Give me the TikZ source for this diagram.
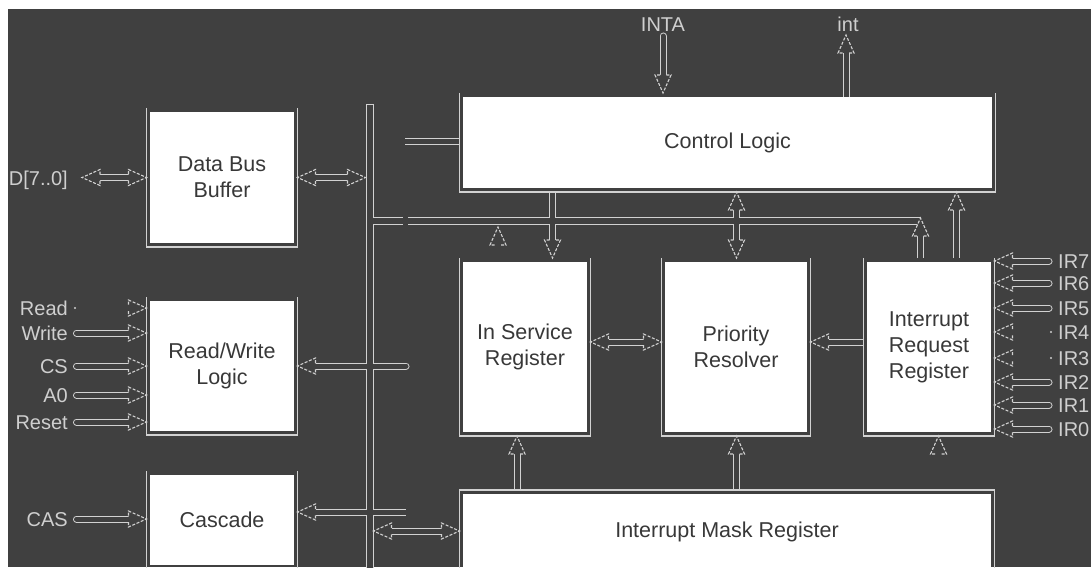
\documentclass[tikz,border=0pt]{standalone}
\usepackage{fontspec}
\setmainfont{Liberation Sans}
\usetikzlibrary{calc}
\definecolor{bg}{HTML}{404040}
\definecolor{ln}{HTML}{D2D2D2}
\definecolor{txt}{HTML}{383838}
\definecolor{lab}{HTML}{CFCFCF}
\tikzset{
 box/.style={fill=white, inner sep=0pt, outer sep=0pt, align=center, text=txt, font=\fontsize{21.5}{26}\selectfont},
 frm/.style={draw=ln, line width=1.2pt},
 outerS/.style={draw=ln, line width=7pt},
 innerS/.style={draw=bg, line width=5pt},
 outerB/.style={draw=ln, line width=8pt},
 innerB/.style={draw=bg, line width=6pt},
 io/.style={text=lab, font=\fontsize{20}{24}\selectfont, inner sep=0pt, text height=14.3pt, text depth=0pt},
 hdst/.style={draw=ln, line width=1.1pt, dash pattern=on 3pt off 1.6pt, line join=miter},
 pics/hd/.style={code={
   \fill[bg] (0,0) -- (-18,8) -- (-18,-8) -- cycle;
   \draw[hdst] (-18,3) -- (-18,8) -- (0,0) -- (-18,-8) -- (-18,-3);}},
}
\newcommand\blkframe[1]{\draw[frm] ($(#1.north west)+(-3.5,-4)$) -- ($(#1.south west)+(-3.5,4)$) -- ($(#1.south east)+(3.5,4)$) -- ($(#1.north east)+(3.5,-4)$);}
\newcommand\blkframetop[1]{\draw[frm] ($(#1.south west)+(-3.5,4)$) -- ($(#1.north west)+(-3.5,-4)$) -- ($(#1.north east)+(3.5,-4)$) -- ($(#1.south east)+(3.5,4)$);}
\newcommand\ShaftsButt{
 ($(dT)+(18,0)$) -- ($(dbbW)+(-18,0)$)
 ($(dbbE)+(18,0)$) -- ($(vbD)+(-18,0)$)
 ($(csdT)+(18,0)$) -- (csdS)
 ($(imL)+(18,0)$) -- ($(imR)+(-18,0)$)
 (clS) -- (clSE)
 (intS) -- ($(intT)+(0,18)$)
 (c1S) -- ($(c1T)+(0,-18)$)
 ($(c2T1)+(0,18)$) -- ($(c2T2)+(0,-18)$)
 (c3S) -- ($(c3T)+(0,18)$)
 (c4S) -- ($(c4T)+(0,18)$)
 ($(ipT1)+(18,0)$) -- ($(ipT2)+(-18,0)$)
 (rpS) -- ($(rpT)+(18,0)$)
 (m1S) -- ($(m1T)+(0,18)$)
 (m2S) -- ($(m2T)+(0,18)$)
}
\newcommand\ShaftsRound{
 (wrS) -- ($(wrT)+(-18,0)$)
 (csS) -- ($(csT)+(-18,0)$)
 (a0S) -- ($(a0T)+(-18,0)$)
 (rsS) -- ($(rsT)+(-18,0)$)
 (caS) -- ($(caT)+(-18,0)$)
 ($(rwT)+(18,0)$) -- (rwS)
 (intaS) -- ($(intaT)+(0,-18)$)
 (ir7S) -- ($(ir7T)+(18,0)$)
 (ir6S) -- ($(ir6T)+(18,0)$)
 (ir5S) -- ($(ir5T)+(18,0)$)
 (ir2S) -- ($(ir2T)+(18,0)$)
 (ir1S) -- ($(ir1T)+(18,0)$)
 (ir0S) -- ($(ir0T)+(18,0)$)
}
\begin{document}
\begin{tikzpicture}[x=1pt,y=-1pt]
\useasboundingbox (0,0) rectangle (1091,567);
\clip (0,0) rectangle (1091,567);
\fill[bg] (0,0) rectangle (1091,567);

% blocks
\node[box, minimum width=144pt, minimum height=131pt] (dbb) at (222,177.5) {Data Bus\\Buffer};
\node[box, minimum width=144pt, minimum height=130pt] (rwl) at (222,366) {Read/Write\\Logic};
\node[box, minimum width=144pt, minimum height=90pt] (cas) at (222,520) {Cascade};
\node[box, minimum width=529pt, minimum height=91pt] (cl) at (727.5,142.5) {Control Logic};
\node[box, minimum width=124pt, minimum height=170pt] (isr) at (525,347) {In Service\\Register};
\node[box, minimum width=142pt, minimum height=170pt] (pr) at (736,347) {Priority\\Resolver};
\node[box, minimum width=124pt, minimum height=170pt] (irr) at (929,347) {Interrupt\\Request\\Register};
\node[box, minimum width=528pt, minimum height=75pt] (imr) at (727,531.5) {Interrupt Mask Register};

% connector end points
\coordinate (dT) at (82,177.5);
\coordinate (dbbW) at ($(dbb.west)+(-3.5,0)$);
\coordinate (dbbE) at ($(dbb.east)+(3.5,0)$);
\coordinate (vbD) at (365.5,177.5);
\coordinate (vb1) at (369.5,104);
\coordinate (vb1i) at (369.5,105);
\coordinate (vb2) at (369.5,575);
\coordinate (hb1) at (369.5,221);
\coordinate (hb2) at (920.5,221);
\coordinate (rdT) at ($(rwl.west)+(-3.5,-58)$);
\coordinate (wrT) at ($(rwl.west)+(-3.5,-33)$); \coordinate (wrS) at (76.5,333);
\coordinate (csT) at ($(rwl.west)+(-3.5,0)$);   \coordinate (csS) at (76.5,366);
\coordinate (a0T) at ($(rwl.west)+(-3.5,29)$);  \coordinate (a0S) at (76.5,395);
\coordinate (rsT) at ($(rwl.west)+(-3.5,56)$);  \coordinate (rsS) at (76.5,422);
\coordinate (caT) at ($(cas.west)+(-3.5,-1)$);  \coordinate (caS) at (76.5,519);
\coordinate (rwT) at ($(rwl.east)+(3.5,0)$);    \coordinate (rwS) at (406,366);
\coordinate (csdT) at ($(cas.east)+(3.5,-8)$);  \coordinate (csdS) at (406,512);
\coordinate (imL) at (373.5,531);               \coordinate (imR) at ($(imr.west)+(-3.5,-0.5)$);
\coordinate (clS) at ($(cl.west)+(-3.5,-1)$);   \coordinate (clSE) at (405,141.5);
\coordinate (intaS) at (663,36);                \coordinate (intaT) at ($(cl.north west)+(200,-4)$);
\coordinate (intS) at ($(cl.north west)+(383,0)$); \coordinate (intT) at (846,35);
\coordinate (c1S) at ($(cl.south west)+(89.5,4)$);   \coordinate (c1T) at ($(isr.north west)+(89.5,-4)$);
\coordinate (c2T1) at ($(cl.south west)+(273.5,4)$); \coordinate (c2T2) at ($(pr.north)+(0.5,-4)$);
\coordinate (c3S) at ($(irr.north)+(27.5,-4)$);      \coordinate (c3T) at ($(cl.south west)+(493.5,4)$);
\coordinate (c4S) at ($(irr.north)+(-8.5,-4)$);      \coordinate (c4T) at (920.5,218);
\coordinate (lone1) at (498,227);
\coordinate (ipT1) at ($(isr.east)+(3.5,-5)$);  \coordinate (ipT2) at ($(pr.west)+(-3.5,-5)$);
\coordinate (rpT) at ($(pr.east)+(3.5,-5)$);    \coordinate (rpS) at ($(irr.west)+(-3.5,-5)$);
\coordinate (m1S) at ($(imr.north west)+(54,-4)$);    \coordinate (m1T) at ($(isr.south west)+(54,4)$);
\coordinate (m2S) at ($(imr.north west)+(273.5,-4)$); \coordinate (m2T) at ($(pr.south)+(0.5,4)$);
\coordinate (lone2) at ($(irr.south)+(9.5,4)$);
\foreach \n/\dy in {7/-86,6/-64,5/-39,4/-15,3/11,2/35,1/58,0/82}{
  \coordinate (ir\n T) at ($(irr.east)+(3.5,\dy)$);
  \coordinate (ir\n S) at ($(irr.east)+(58,\dy)$);
}

% double lines: outer pass then inner pass (junctions merge)
\draw[outerB] (vb1) -- (vb2) (hb1) -- (hb2);
\draw[outerS] \ShaftsButt;
\draw[outerS, line cap=round] \ShaftsRound;
\draw[innerB] (vb1i) -- (vb2) (hb1) -- (hb2);
\draw[innerS] \ShaftsButt;
\draw[innerS, line cap=round] \ShaftsRound;
\fill[bg] (403,215) rectangle (408,227);

% frames
\blkframe{dbb} \blkframe{rwl} \blkframe{cas} \blkframe{cl}
\blkframe{isr} \blkframe{pr} \blkframe{irr} \blkframetop{imr}

% arrow heads
\pic[rotate=180] at (dT) {hd};   \pic at (dbbW) {hd};
\pic[rotate=180] at (dbbE) {hd}; \pic at (vbD) {hd};
\pic at (rdT) {hd}; \pic at (wrT) {hd}; \pic at (csT) {hd};
\pic at (a0T) {hd}; \pic at (rsT) {hd}; \pic at (caT) {hd};
\pic[rotate=180] at (rwT) {hd};  \pic[rotate=180] at (csdT) {hd};
\pic[rotate=180] at (imL) {hd};  \pic at (imR) {hd};
\pic[rotate=-90] at (intaT) {hd}; \pic[rotate=90] at (intT) {hd};
\pic[rotate=-90] at (c1T) {hd};
\pic[rotate=90] at (c2T1) {hd};  \pic[rotate=-90] at (c2T2) {hd};
\pic[rotate=90] at (c3T) {hd};   \pic[rotate=90] at (c4T) {hd};
\pic[rotate=90] at (lone1) {hd};
\pic[rotate=180] at (ipT1) {hd}; \pic at (ipT2) {hd};
\pic[rotate=180] at (rpT) {hd};
\pic[rotate=90] at (m1T) {hd};   \pic[rotate=90] at (m2T) {hd};
\pic[rotate=90] at (lone2) {hd};
\foreach \n in {7,6,5,4,3,2,1,0}{\pic[rotate=180] at (ir\n T) {hd};}
\fill[lab] (75,308) circle (1.2);
\fill[lab] ($(ir4S)+(2,0)$) circle (1.2);
\fill[lab] ($(ir3S)+(2,0)$) circle (1.2);

% signal labels
\node[io, anchor=east] (lD) at (68,178) {D[7..0]};
\node[io, anchor=east] (lRead) at (68,308) {Read};
\node[io, anchor=east] (lWrite) at (68,333) {Write};
\node[io, anchor=east] (lCS) at (68,366) {CS};
\node[io, anchor=east] (lA0) at (68,395) {A0};
\node[io, anchor=east] (lReset) at (68,422) {Reset};
\node[io, anchor=east] (lCAS) at (68,519) {CAS};
\node[io] (lINTA) at (663,24) {INTA};
\node[io] (lint) at (848,24) {int};
\foreach \n/\yy in {7/261,6/283,5/308,4/332,3/358,2/382,1/405,0/429}{
  \node[io, anchor=west] (lIR\n) at (1058,\yy) {IR\n};
}

% white page margins
\fill[white] (0,0) rectangle (1091,9);
\fill[white] (0,0) rectangle (8,567);
\end{tikzpicture}
\end{document}
